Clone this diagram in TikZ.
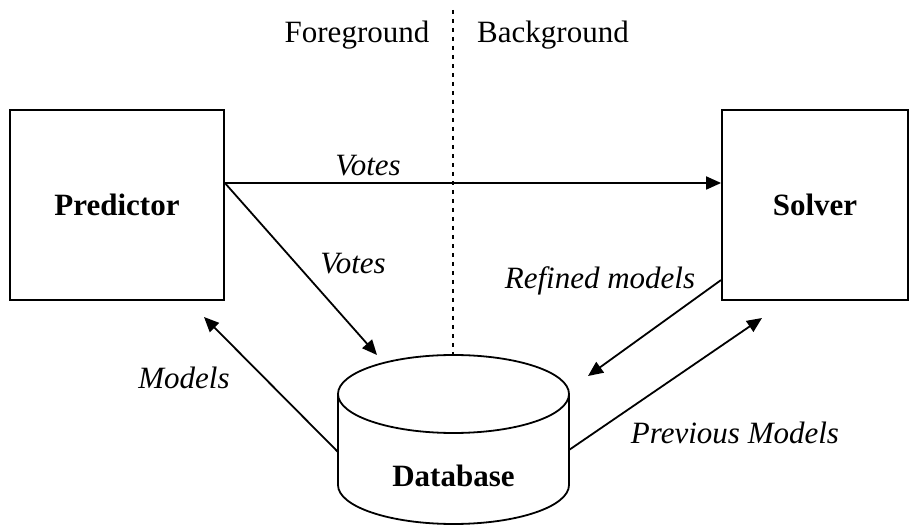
\documentclass[tikz,border=0pt]{standalone}
\usepackage{fontspec}
\setmainfont{Liberation Serif}
\usetikzlibrary{arrows.meta}
\begin{document}
\begin{tikzpicture}[x=1pt,y=-1pt,
  every node/.style={font=\fontsize{31}{37}\selectfont},
  box/.style={draw,line width=1.8pt,minimum width=214pt,minimum height=190pt,inner sep=0pt,font=\fontsize{31}{37}\selectfont\bfseries},
  conn/.style={line width=1.8pt,-{Triangle[length=15pt,width=13pt]}},
  lab/.style={font=\fontsize{31}{37}\selectfont\itshape}]
\useasboundingbox (0,0) rectangle (922,526);
\node[box] (pred) at (117,205) {Predictor};
\node[box,minimum width=186pt] (solv) at (815,205) {Solver};
\node (fg) at (357,35) {Foreground};
\node (bg) at (553,35) {Background};
% cylinder
\draw[line width=1.8pt] (453.5,394) ellipse [x radius=115.5pt, y radius=39pt];
\draw[line width=1.8pt] (338,394) -- (338,485) arc[start angle=180,end angle=360,x radius=115.5pt,y radius=39pt] -- (569,394);
\node[font=\fontsize{31}{37}\selectfont\bfseries] (db) at (453.5,476) {Database};
\coordinate (dbtop) at (453,355);
\coordinate (dbl) at (338,452);
\coordinate (dbr) at (569,450);
\coordinate (dbtl) at (377,355);
\coordinate (dbtr) at (588,376);
\coordinate (divtop) at (453,10);
\coordinate (predtip) at (204,317);
\coordinate (solvtip) at (762,318);
\draw[line width=1.8pt,dash pattern=on 4pt off 5pt] (divtop) -- (dbtop);
\draw[conn] (pred.east |- 0,183) -- (solv.west |- 0,183);
\node[lab] (v1) at (368,166) {Votes};
\draw[conn] (pred.east |- 0,183) -- (dbtl);
\node[lab] (v2) at (353,264) {Votes};
\draw[conn] (dbl) -- (predtip);
\node[lab] (m) at (184,378) {Models};
\draw[conn] (solv.west |- 0,280) -- (dbtr);
\node[lab] (rm) at (600,281) {Refined models};
\draw[conn] (dbr) -- (solvtip);
\node[lab] (pm) at (735,433) {Previous Models};
\end{tikzpicture}
\end{document}
